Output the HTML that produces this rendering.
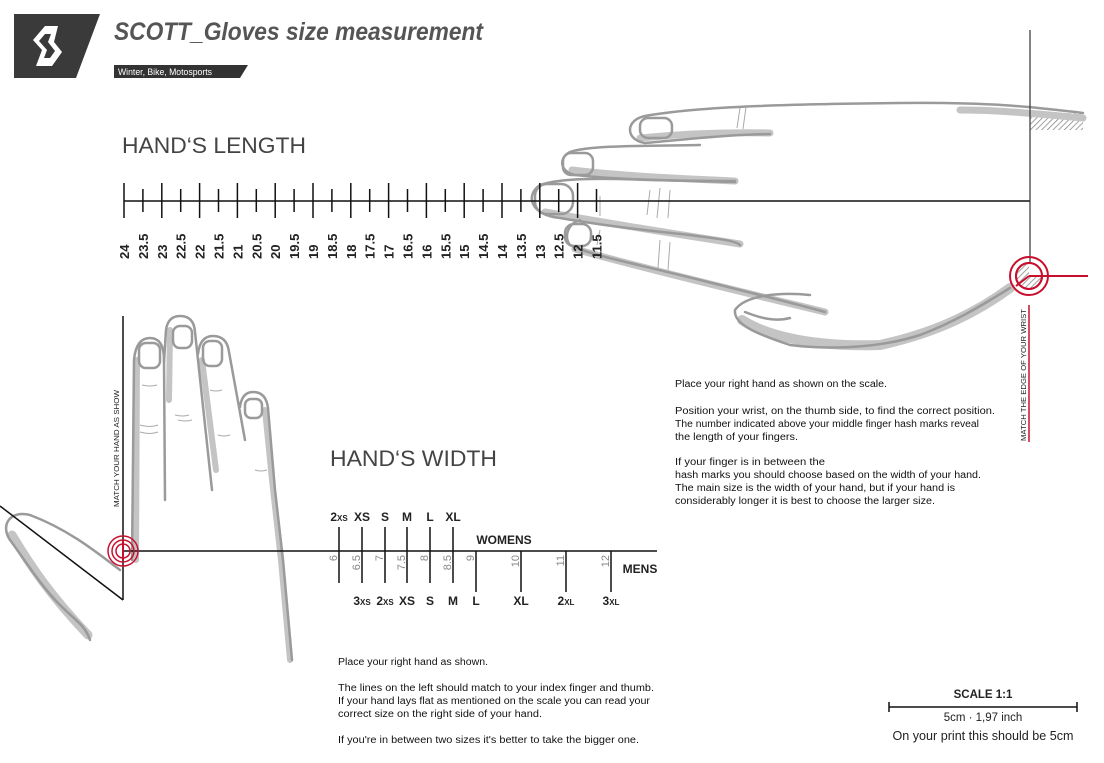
<!DOCTYPE html>
<html><head><meta charset="utf-8"><style>
html,body{margin:0;padding:0;background:#fff;}
svg{display:block;font-family:"Liberation Sans",sans-serif;}
</style></head><body>
<svg width="1104" height="763" viewBox="0 0 1104 763" xmlns="http://www.w3.org/2000/svg">
<defs>
<pattern id="h" width="4" height="4" patternUnits="userSpaceOnUse" patternTransform="rotate(45)">
<rect width="4" height="4" fill="#fff"/><line x1="0" y1="0" x2="0" y2="4" stroke="#888" stroke-width="1.6"/>
</pattern>
</defs>
<polygon points="14,14 100,14 76,78 14,78" fill="#3a3a3a"/>
<path d="M45 26 L33 40 L42 50 L36 66 L52 66 L62 52 L54 42 L58 26 Z" fill="#fff"/>
<path d="M45 34 L39 41 L47 50 L44 58 L50 58 L55 51 L48 42 L51 34 Z" fill="#3a3a3a"/>
<text x="114" y="40" font-size="25" font-weight="bold" font-style="italic" fill="#555" textLength="369" lengthAdjust="spacingAndGlyphs">SCOTT_Gloves size measurement</text>
<polygon points="114,65 248,65 240,78 114,78" fill="#333"/>
<text x="118" y="75" font-size="9" fill="#fff" textLength="94" lengthAdjust="spacingAndGlyphs">Winter, Bike, Motosports</text>

<g fill="none" stroke-linecap="round">
<rect x="1030" y="113" width="53" height="17" fill="url(#h)"/>
<g stroke="#c4c4c4" stroke-width="7">
<path d="M1083 118 C1040 114,1000 110,960 110"/>
<path d="M640 138 C680 134,720 132,770 133"/>
<path d="M572 170 C620 176,690 179,735 181"/>
<path d="M545 212 C600 222,650 230,740 244"/>
<path d="M575 249 C620 262,700 282,825 312"/>
<path d="M742 320 C770 338,820 347,880 345 C940 332,980 310,1010 288" stroke-width="10"/>
</g>
<g stroke="#9a9a9a" stroke-width="2.5">
<path d="M1083 113 C1040 108,1000 102,900 103 C800 104,700 106,645 116 C625 120,625 140,645 143 C680 140,720 135,770 134"/>
<rect x="640" y="118" width="32" height="20" rx="8"/>
<path d="M700 145 C650 146,590 145,570 152 C558 158,560 172,575 175 C620 180,690 181,735 181"/>
<rect x="563" y="153" width="30" height="22" rx="8"/>
<path d="M735 182 L650 180 C600 178,560 178,540 185 C525 195,530 215,560 218 C600 225,640 230,690 235 C710 238,735 240,740 245"/>
<rect x="535" y="184" width="38" height="30" rx="12"/>
<path d="M580 220 C565 225,565 240,570 245 C590 255,620 260,700 280 C760 295,800 305,825 312"/>
<rect x="565" y="224" width="26" height="22" rx="9"/>
<path d="M810 295 C780 292,745 295,735 310 C733 325,760 335,790 345 C830 350,880 348,920 335 C960 320,990 300,1010 288"/>
<path d="M745 312 C760 318,775 322,790 318"/>
</g>
</g>
<g stroke="#aaa" stroke-width="1" fill="none">
<path d="M740 108 l-3 20 M746 107 l-3 22 M650 190 l-3 25 M660 188 l-3 30 M670 190 l-2 28 M600 196 l0 20 M600 230 l-3 15 M660 240 l-2 28 M670 242 l-2 28"/>
</g>
<line x1="124" y1="201" x2="1030" y2="201" stroke="#111" stroke-width="1.5"/>
<line x1="1030" y1="30" x2="1030" y2="270" stroke="#333" stroke-width="1.2"/>
<g stroke="#111" stroke-width="1.5">
<line x1="124" y1="183" x2="124" y2="218"/><line x1="142.9" y1="189" x2="142.9" y2="212"/>
<line x1="161.8" y1="183" x2="161.8" y2="218"/><line x1="180.7" y1="189" x2="180.7" y2="212"/>
<line x1="199.6" y1="183" x2="199.6" y2="218"/><line x1="218.5" y1="189" x2="218.5" y2="212"/>
<line x1="237.4" y1="183" x2="237.4" y2="218"/><line x1="256.3" y1="189" x2="256.3" y2="212"/>
<line x1="275.2" y1="183" x2="275.2" y2="218"/><line x1="294.1" y1="189" x2="294.1" y2="212"/>
<line x1="313" y1="183" x2="313" y2="218"/><line x1="331.9" y1="189" x2="331.9" y2="212"/>
<line x1="350.8" y1="183" x2="350.8" y2="218"/><line x1="369.7" y1="189" x2="369.7" y2="212"/>
<line x1="388.6" y1="183" x2="388.6" y2="218"/><line x1="407.5" y1="189" x2="407.5" y2="212"/>
<line x1="426.4" y1="183" x2="426.4" y2="218"/><line x1="445.3" y1="189" x2="445.3" y2="212"/>
<line x1="464.2" y1="183" x2="464.2" y2="218"/><line x1="483.1" y1="189" x2="483.1" y2="212"/>
<line x1="502" y1="183" x2="502" y2="218"/><line x1="520.9" y1="189" x2="520.9" y2="212"/>
<line x1="539.8" y1="183" x2="539.8" y2="218"/><line x1="558.7" y1="189" x2="558.7" y2="212"/>
<line x1="577.6" y1="183" x2="577.6" y2="218"/><line x1="596.5" y1="189" x2="596.5" y2="212"/>
</g>
<g font-size="13" fill="#222" font-weight="bold">
<text transform="translate(129,259) rotate(-90)">24</text>
<text transform="translate(147.9,259) rotate(-90)">23.5</text>
<text transform="translate(166.8,259) rotate(-90)">23</text>
<text transform="translate(185.7,259) rotate(-90)">22.5</text>
<text transform="translate(204.6,259) rotate(-90)">22</text>
<text transform="translate(223.5,259) rotate(-90)">21.5</text>
<text transform="translate(242.4,259) rotate(-90)">21</text>
<text transform="translate(261.3,259) rotate(-90)">20.5</text>
<text transform="translate(280.2,259) rotate(-90)">20</text>
<text transform="translate(299.1,259) rotate(-90)">19.5</text>
<text transform="translate(318,259) rotate(-90)">19</text>
<text transform="translate(336.9,259) rotate(-90)">18.5</text>
<text transform="translate(355.8,259) rotate(-90)">18</text>
<text transform="translate(374.7,259) rotate(-90)">17.5</text>
<text transform="translate(393.6,259) rotate(-90)">17</text>
<text transform="translate(412.5,259) rotate(-90)">16.5</text>
<text transform="translate(431.4,259) rotate(-90)">16</text>
<text transform="translate(450.3,259) rotate(-90)">15.5</text>
<text transform="translate(469.2,259) rotate(-90)">15</text>
<text transform="translate(488.1,259) rotate(-90)">14.5</text>
<text transform="translate(507,259) rotate(-90)">14</text>
<text transform="translate(525.9,259) rotate(-90)">13.5</text>
<text transform="translate(544.8,259) rotate(-90)">13</text>
<text transform="translate(563.7,259) rotate(-90)">12.5</text>
<text transform="translate(582.6,259) rotate(-90)">12</text>
<text transform="translate(601.5,259) rotate(-90)">11.5</text>
</g>
<text x="122" y="153" font-size="22" fill="#444" textLength="184" lengthAdjust="spacingAndGlyphs">HAND‘S LENGTH</text>

<circle cx="1029" cy="276" r="13" fill="url(#h)" stroke="#c8102e" stroke-width="2"/>
<path d="M1029 276 L1029 263 A13 13 0 0 1 1042 276 Z" fill="#fff"/>
<circle cx="1029" cy="276" r="13" fill="none" stroke="#c8102e" stroke-width="2"/>
<circle cx="1029" cy="276" r="19" fill="none" stroke="#c8102e" stroke-width="2"/>
<path d="M1029 276 L1088 276 M1029 276 L1016 286" stroke="#c8102e" stroke-width="2"/>
<line x1="1029" y1="305" x2="1029" y2="442" stroke="#c8102e" stroke-width="1.5"/>
<text transform="translate(1026,441) rotate(-90)" font-size="7.5" fill="#222" textLength="132" lengthAdjust="spacingAndGlyphs">MATCH THE EDGE OF YOUR WRIST</text>

<g font-size="10" fill="#111">
<text x="675" y="387" textLength="212" lengthAdjust="spacingAndGlyphs">Place your right hand as shown on the scale.</text>
<text x="675" y="414" textLength="320" lengthAdjust="spacingAndGlyphs">Position your wrist, on the thumb side, to find the correct position.</text>
<text x="675" y="427" textLength="304" lengthAdjust="spacingAndGlyphs">The number indicated above your middle finger hash marks reveal</text>
<text x="675" y="440" textLength="123" lengthAdjust="spacingAndGlyphs">the length of your fingers.</text>
<text x="675" y="465" textLength="150" lengthAdjust="spacingAndGlyphs">If your finger is in between the</text>
<text x="675" y="478" textLength="306" lengthAdjust="spacingAndGlyphs">hash marks you should choose based on the width of your hand.</text>
<text x="675" y="491" textLength="280" lengthAdjust="spacingAndGlyphs">The main size is the width of your hand, but if your hand is</text>
<text x="675" y="504" textLength="260" lengthAdjust="spacingAndGlyphs">considerably longer it is best to choose the larger size.</text>
</g>

<g fill="none" stroke-linecap="round">
<g stroke="#c4c4c4" stroke-width="6">
<path d="M136 560 L137 360"/>
<path d="M169 400 L170 330"/>
<path d="M202 360 L216 470"/>
<path d="M265 410 L272 480 L281 560 L290 660"/>
<path d="M12 535 C30 565,50 595,88 635" stroke-width="9"/>
</g>
<g stroke="#9a9a9a" stroke-width="2.5">
<path d="M132 560 L134 360 Q136 338 150 338 Q164 338 164 360 L165 500"/>
<rect x="139" y="343" width="21" height="25" rx="7"/>
<path d="M164 362 L166 330 Q168 316 180 316 Q194 316 195 332 L212 490"/>
<rect x="173" y="326" width="19" height="22" rx="7"/>
<path d="M198 354 Q200 336 213 336 Q227 336 229 352 L245 440"/>
<rect x="203" y="341" width="19" height="25" rx="7"/>
<path d="M240 407 Q242 392 253 392 Q266 392 268 408 L275 490 L283 560 L292 660"/>
<rect x="245" y="399" width="17" height="19" rx="6"/>
<path d="M120 570 C100 555,70 530,30 515 C10 510,0 525,10 540 C25 560,40 585,60 605 C75 620,85 625,90 640"/>
</g>
</g>
<g stroke="#aaa" stroke-width="1" fill="none">
<path d="M142 385 q8 2 15 0 M140 425 q10 3 18 0 M140 432 q10 3 18 0 M175 415 q8 2 14 0 M178 420 q8 2 14 0 M210 390 q6 2 12 0 M218 435 q6 2 12 0 M255 470 q6 2 12 0"/>
</g>
<line x1="123" y1="316" x2="123" y2="600" stroke="#111" stroke-width="1.5"/>
<line x1="0" y1="506" x2="123" y2="600" stroke="#111" stroke-width="1.5"/>
<line x1="123" y1="551" x2="657" y2="551" stroke="#111" stroke-width="1.5"/>
<circle cx="123" cy="551" r="15" fill="none" stroke="#c8102e" stroke-width="1.5"/>
<circle cx="123" cy="551" r="11" fill="none" stroke="#c8102e" stroke-width="1.5"/>
<circle cx="123" cy="551" r="7" fill="none" stroke="#c8102e" stroke-width="1.5"/>
<line x1="123" y1="540" x2="123" y2="560" stroke="#c8102e" stroke-width="2"/>
<text transform="translate(119,507) rotate(-90)" font-size="7.5" fill="#222" textLength="117" lengthAdjust="spacingAndGlyphs">MATCH YOUR HAND AS SHOW</text>

<text x="330" y="466" font-size="22" fill="#444" textLength="167" lengthAdjust="spacingAndGlyphs">HAND‘S WIDTH</text>
<g stroke="#111" stroke-width="1.5">
<line x1="339" y1="527" x2="339" y2="583"/><line x1="362" y1="527" x2="362" y2="583"/>
<line x1="385" y1="527" x2="385" y2="583"/><line x1="407" y1="527" x2="407" y2="583"/>
<line x1="430" y1="527" x2="430" y2="583"/><line x1="453" y1="527" x2="453" y2="583"/>
<line x1="476" y1="551" x2="476" y2="592"/><line x1="521" y1="551" x2="521" y2="592"/>
<line x1="566" y1="551" x2="566" y2="592"/><line x1="611" y1="551" x2="611" y2="592"/>
</g>
<g font-size="12" font-weight="bold" fill="#222" text-anchor="middle">
<text x="339" y="521">2<tspan font-size="8">XS</tspan></text>
<text x="362" y="521">XS</text><text x="385" y="521">S</text><text x="407" y="521">M</text>
<text x="430" y="521">L</text><text x="453" y="521">XL</text>
<text x="362" y="605">3<tspan font-size="8">XS</tspan></text>
<text x="385" y="605">2<tspan font-size="8">XS</tspan></text>
<text x="407" y="605">XS</text><text x="430" y="605">S</text><text x="453" y="605">M</text>
<text x="476" y="605">L</text><text x="521" y="605">XL</text>
<text x="566" y="605">2<tspan font-size="8">XL</tspan></text>
<text x="611" y="605">3<tspan font-size="8">XL</tspan></text>
<text x="504" y="544">WOMENS</text>
<text x="640" y="573">MENS</text>
</g>
<g font-size="11" fill="#888" text-anchor="end">
<text transform="translate(337,555) rotate(-90)">6</text>
<text transform="translate(360,555) rotate(-90)">6.5</text>
<text transform="translate(383,555) rotate(-90)">7</text>
<text transform="translate(405,555) rotate(-90)">7.5</text>
<text transform="translate(428,555) rotate(-90)">8</text>
<text transform="translate(451,555) rotate(-90)">8.5</text>
<text transform="translate(474,555) rotate(-90)">9</text>
<text transform="translate(519,555) rotate(-90)">10</text>
<text transform="translate(564,555) rotate(-90)">11</text>
<text transform="translate(609,555) rotate(-90)">12</text>
</g>

<g font-size="10" fill="#111">
<text x="338" y="665" textLength="150" lengthAdjust="spacingAndGlyphs">Place your right hand as shown.</text>
<text x="338" y="691" textLength="316" lengthAdjust="spacingAndGlyphs">The lines on the left should match to your index finger and thumb.</text>
<text x="338" y="704" textLength="312" lengthAdjust="spacingAndGlyphs">If your hand lays flat as mentioned on the scale you can read your</text>
<text x="338" y="717" textLength="204" lengthAdjust="spacingAndGlyphs">correct size on the right side of your hand.</text>
<text x="338" y="743" textLength="301" lengthAdjust="spacingAndGlyphs">If you're in between two sizes it's better to take the bigger one.</text>
</g>

<text x="983" y="698" font-size="11.5" font-weight="bold" fill="#222" text-anchor="middle">SCALE 1:1</text>
<line x1="889" y1="707" x2="1077" y2="707" stroke="#111" stroke-width="1.5"/>
<line x1="889" y1="702" x2="889" y2="712" stroke="#111" stroke-width="1.5"/>
<line x1="1077" y1="702" x2="1077" y2="712" stroke="#111" stroke-width="1.5"/>
<text x="983" y="721" font-size="11.5" fill="#222" text-anchor="middle">5cm · 1,97 inch</text>
<text x="983" y="740" font-size="12.5" fill="#222" text-anchor="middle" textLength="181" lengthAdjust="spacingAndGlyphs">On your print this should be 5cm</text>
</svg>
</body></html>
